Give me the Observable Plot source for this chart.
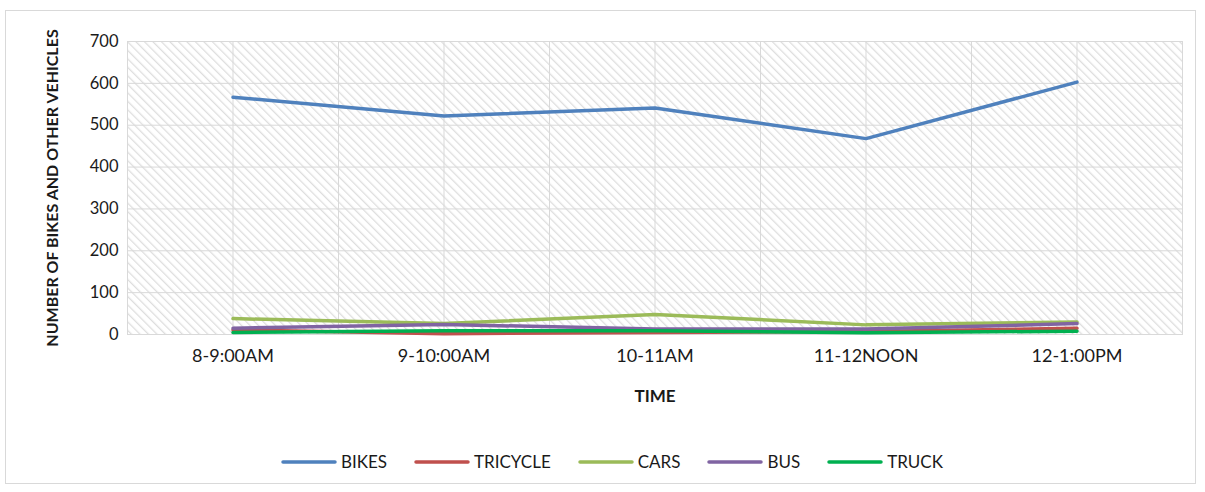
<!DOCTYPE html>
<html>
<head>
<meta charset="utf-8">
<script src="https://cdn.jsdelivr.net/npm/d3@7"></script>
<script src="https://cdn.jsdelivr.net/npm/@observablehq/plot@0.6"></script>
<style>
  html, body { margin: 0; padding: 0; background: #fff; }
  #wrap { position: relative; width: 1205px; height: 492px; overflow: hidden; font-family: Lato, "Open Sans", sans-serif; }
  #border { position: absolute; left: 5px; top: 10px; width: 1191px; height: 474px; border: 1px solid #d9d9d9; box-sizing: border-box; }
  #chart { position: absolute; left: 0; top: 0; }
  #legend { position: absolute; left: 281px; top: 451px; display: flex; align-items: center; font-size: 17px; color: #1a1a1a; }
  .item { display: flex; align-items: center; margin-right: 27px; }
  .item svg { margin-right: 4px; }
</style>
</head>
<body>
<div id="wrap">
  <div id="border"></div>
  <div id="chart"></div>
  <div id="legend"></div>
</div>
<script>
const categories = ["8-9:00AM", "9-10:00AM", "10-11AM", "11-12NOON", "12-1:00PM"];
const seriesNames = ["BIKES", "TRICYCLE", "CARS", "BUS", "TRUCK"];
const bikes    = [567, 522, 541, 468, 603];
const tricycle = [11, 2, 5, 7, 15];
const cars     = [38, 26, 48, 23, 30];
const bus      = [15, 24, 13, 13, 26];
const truck    = [5, 9, 9, 4, 8];
const colors   = ["#4f81bd", "#c0504d", "#9bbb59", "#8064a2", "#00b050"];
const yTicks   = [0, 100, 200, 300, 400, 500, 600, 700];

const seriesValues = [bikes, tricycle, cars, bus, truck];
const data = [];
seriesNames.forEach((s, k) => seriesValues[k].forEach((v, i) => data.push({series: s, i, value: v})));

const xGrid = d3.range(-0.5, categories.length, 0.5);

const chart = Plot.plot({
  width: 1205,
  height: 430,
  marginLeft: 127,
  marginRight: 23,
  marginTop: 41,
  marginBottom: 96,
  style: {fontFamily: "Lato, 'Open Sans', sans-serif", fontSize: "16px", color: "#1a1a1a", background: "transparent"},
  x: {domain: [-0.5, categories.length - 0.5], axis: null},
  y: {domain: [0, 700], axis: null},
  color: {domain: seriesNames, range: colors},
  marks: [
    Plot.frame({fill: "url(#hatch)", stroke: "none"}),
    Plot.gridX(xGrid, {stroke: "#d9d9d9", strokeOpacity: 1, strokeWidth: 1}),
    Plot.gridY(yTicks, {stroke: "#d9d9d9", strokeOpacity: 1, strokeWidth: 1}),
    Plot.frame({stroke: "#d9d9d9", strokeWidth: 1}),
    Plot.axisY(yTicks, {tickSize: 0, tickPadding: 9, label: null, fontSize: 16.5, fill: "#1a1a1a"}),
    Plot.axisX(d3.range(categories.length), {tickSize: 0, tickPadding: 15, label: null, tickFormat: i => categories[i], fontSize: 18, fill: "#1a1a1a"}),
    Plot.lineY(data, {x: "i", y: "value", stroke: "series", z: "series", strokeWidth: 3.5, strokeLinecap: "round", strokeLinejoin: "round"}),
    Plot.text(["TIME"], {frameAnchor: "bottom", lineAnchor: "middle", dy: 62, fontWeight: "bold", fontSize: 17, fill: "#1a1a1a"}),
    Plot.text(["NUMBER OF BIKES AND OTHER VEHICLES"], {frameAnchor: "left", lineAnchor: "middle", textAnchor: "middle", rotate: -90, dx: -75, fontWeight: "bold", fontSize: 16, fill: "#1a1a1a"})
  ]
});

d3.select(chart).insert("defs", ":first-child").html(`
  <pattern id="hatch" patternUnits="userSpaceOnUse" width="6" height="6" patternTransform="rotate(-45)">
    <rect width="6" height="6" fill="#ffffff"></rect>
    <line x1="0" y1="0" x2="0" y2="6" stroke="#dedede" stroke-width="2.6"></line>
  </pattern>`);

document.getElementById("chart").appendChild(chart);

const legend = d3.select("#legend");
seriesNames.forEach((s, k) => {
  const item = legend.append("div").attr("class", "item");
  const sw = item.append("svg").attr("width", 56).attr("height", 8);
  sw.append("line").attr("x1", 2).attr("x2", 54).attr("y1", 4).attr("y2", 4)
    .attr("stroke", colors[k]).attr("stroke-width", 3.5).attr("stroke-linecap", "round");
  item.append("span").text(s);
});
</script>
</body>
</html>
